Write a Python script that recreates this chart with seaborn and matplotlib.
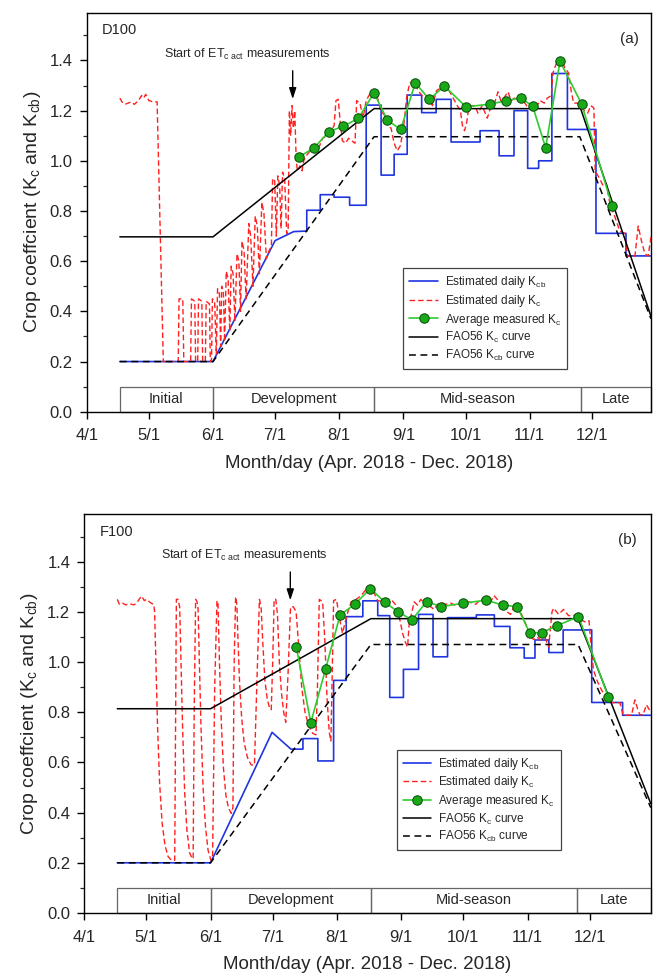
import matplotlib
matplotlib.use("Agg")
import matplotlib.pyplot as plt
from matplotlib.lines import Line2D
from matplotlib.patches import Rectangle
import pandas as pd
import seaborn as sns

# ---------------- data (x = days after 1 April 2018) ----------------
month_ticks = [0, 30, 61, 91, 122, 153, 183, 214, 244]
month_labels = ["4/1", "5/1", "6/1", "7/1", "8/1", "9/1", "10/1", "11/1", "12/1"]
stage_names = ["Initial", "Development", "Mid-season", "Late"]
stage_edges_a = [16, 61, 138.8, 238.8, 272.6]
stage_edges_b = [16, 61, 138.4, 237.8, 273.5]

# Panel (a) D100
fao_kc_a_day = [16, 61, 138.8, 238.6, 272.6]
fao_kc_a = [0.697, 0.697, 1.208, 1.208, 0.38]
fao_kcb_a_day = [16, 61, 138.8, 238.2, 272.6]
fao_kcb_a = [0.2, 0.2, 1.096, 1.096, 0.37]

kcb_a_day = [16, 61, 91, 100, 106.3, 106.3, 112.8, 112.8, 119.5, 119.5, 127, 127, 135, 135,
             142.2, 142.2, 148.5, 148.5, 154.8, 154.8, 161.8, 161.8, 168.8, 168.8, 176, 176,
             190, 190, 199.2, 199.2, 206.4, 206.4, 213, 213, 218.3, 218.3, 224.7, 224.7,
             232.2, 232.2, 246, 246, 260.5, 260.5, 272.6]
kcb_a = [0.2, 0.2, 0.682, 0.718, 0.72, 0.803, 0.803, 0.865, 0.865, 0.855, 0.855, 0.823, 0.823, 1.222,
         1.222, 0.943, 0.943, 1.026, 1.026, 1.262, 1.262, 1.192, 1.192, 1.245, 1.245, 1.075,
         1.075, 1.12, 1.12, 1.02, 1.02, 1.2, 1.2, 0.97, 0.97, 1.0, 1.0, 1.348,
         1.348, 1.125, 1.125, 0.711, 0.711, 0.621, 0.621]

kc_a_day = [16, 17, 18.5, 20, 21.5, 23, 25, 26.5, 27.5, 28.5, 30, 32, 34, 37,
            44.2, 44.6, 46.4, 46.9, 50.2, 50.6, 52.2, 52.6, 53.6, 54, 55.6, 56, 57.3, 57.7, 59.3, 59.7,
            60.3, 60.7, 61.8, 62.6, 63.2, 64.1, 64.7, 65.2, 66, 66.6, 67.4, 68.3, 69.1, 69.8, 70.7, 71.6,
            72.6, 73.5, 74.3, 75, 76, 77, 78.3, 79.2, 80.3, 81.4, 82.4, 83.4, 84.6, 85.6, 86.8, 88, 89.2,
            89.8, 90.8, 91.6, 92.3, 93.2, 93.9, 94.6, 95.6, 96.6, 97.3, 97.9, 98.5, 99.2, 99.8, 100.5,
            101.2, 101.8, 103, 104, 104.8, 106, 108, 110, 112, 114, 116, 118, 119.5, 120.4, 121.5,
            122.5, 123.5, 125, 126.5, 128, 129.6, 130.4, 132, 133.5, 135, 137, 139, 140.5, 142, 144,
            145.5, 147, 148.5, 150, 151.5, 153, 154.5, 156, 158, 159.5, 161, 163, 165, 167, 169, 171,
            173, 175, 177, 179, 180.5, 181.5, 182.5, 183.5, 184.5, 186, 187.5, 189, 191, 192.5, 193.5,
            195, 197, 198.7, 200, 201.5, 203.5, 205, 206.7, 208.5, 210, 212.5, 214, 215.6, 217.5, 219,
            221, 222.5, 224.4, 225.2, 226.5, 228, 229.5, 231, 232.8, 234, 235.2, 237, 239, 240.5, 242,
            243.5, 245, 245.6, 247, 248.3, 249.5, 251, 252.7, 255, 257.5, 259.9, 261.3, 264.8, 266.4,
            268, 269.6, 271.2, 272.6]
kc_a = [1.25, 1.235, 1.225, 1.23, 1.235, 1.225, 1.24, 1.26, 1.25, 1.265, 1.24, 1.235, 1.235, 0.2,
        0.2, 0.45, 0.45, 0.2, 0.2, 0.45, 0.44, 0.2, 0.2, 0.45, 0.44, 0.2, 0.2, 0.44, 0.43, 0.2,
        0.21, 0.45, 0.44, 0.23, 0.49, 0.47, 0.26, 0.50, 0.48, 0.28, 0.56, 0.53, 0.32, 0.58, 0.55, 0.36,
        0.63, 0.60, 0.40, 0.68, 0.64, 0.45, 0.75, 0.70, 0.50, 0.78, 0.74, 0.55, 0.835, 0.79, 0.61, 0.64, 0.66,
        0.93, 0.92, 0.70, 0.94, 0.90, 0.73, 0.955, 0.93, 0.71, 0.72, 1.20, 1.10, 1.22, 1.13, 1.20,
        1.00, 0.96, 0.98, 0.96, 1.00, 1.02, 1.04, 1.06, 1.05, 1.09, 1.10, 1.12, 1.14, 1.24, 1.245,
        1.15, 1.08, 1.07, 1.09, 1.08, 1.07, 1.24, 1.23, 1.17, 1.24, 1.27, 1.28, 1.25, 1.20, 1.18,
        1.14, 1.13, 1.07, 1.04, 1.06, 1.13, 1.25, 1.31, 1.32, 1.29, 1.27, 1.25, 1.25, 1.22, 1.28, 1.29,
        1.30, 1.28, 1.25, 1.22, 1.20, 1.14, 1.12, 1.15, 1.21, 1.22, 1.22, 1.19, 1.22, 1.19, 1.17,
        1.21, 1.23, 1.275, 1.24, 1.25, 1.275, 1.24, 1.25, 1.24, 1.25, 1.22, 1.21, 1.23, 1.22, 1.24,
        1.23, 1.25, 1.26, 1.35, 1.38, 1.41, 1.40, 1.37, 1.35, 1.28, 1.23, 1.23, 1.21, 1.20, 1.19,
        1.22, 1.21, 0.96, 0.94, 0.92, 0.90, 0.91, 0.83, 0.78, 0.72, 0.71, 0.62, 0.62, 0.74,
        0.68, 0.63, 0.62, 0.70]

meas_a_day = [102.7, 110, 116.9, 124, 131.2, 138.8, 145.2, 151.7, 158.7, 165.5, 172.8, 183.2,
              194.8, 202.4, 209.6, 215.4, 221.7, 228.6, 239.1, 253.8]
meas_a = [1.016, 1.053, 1.116, 1.138, 1.169, 1.271, 1.162, 1.125, 1.311, 1.245, 1.298, 1.215,
          1.226, 1.239, 1.251, 1.218, 1.052, 1.397, 1.226, 0.82]

# Panel (b) F100
fao_kc_b_day = [16, 61, 138.4, 238.4, 273.5]
fao_kc_b = [0.814, 0.814, 1.173, 1.173, 0.436]
fao_kcb_b_day = [16, 61, 138.4, 238.4, 273.5]
fao_kcb_b = [0.2, 0.2, 1.07, 1.07, 0.42]

kcb_b_day = [16, 61, 90.7, 99.8, 105.6, 105.6, 112.8, 112.8, 120.4, 120.4, 126.5, 126.5, 134.5, 134.5,
             141.7, 141.7, 147.5, 147.5, 154.1, 154.1, 161.4, 161.4, 168.4, 168.4, 175.4, 175.4,
             189.3, 189.3, 198, 198, 205.5, 205.5, 212.4, 212.4, 217.6, 217.6, 224.3, 224.3,
             231.2, 231.2, 245, 245, 259.9, 259.9, 273.5]
kcb_b = [0.2, 0.2, 0.72, 0.653, 0.653, 0.695, 0.695, 0.606, 0.606, 0.927, 0.927, 1.181, 1.181, 1.244,
         1.244, 1.185, 1.185, 0.859, 0.859, 0.971, 0.971, 1.19, 1.19, 1.021, 1.021, 1.177,
         1.177, 1.188, 1.188, 1.142, 1.142, 1.057, 1.057, 1.016, 1.016, 1.088, 1.088, 1.038,
         1.038, 1.128, 1.128, 0.839, 0.839, 0.788, 0.788]

kc_b_day = [16, 17, 18.5, 20, 22, 24, 25.3, 26.5, 27.7, 29, 30.1, 31.5, 32.5, 33.6,
            34, 34.6, 35.4, 36.4, 37.6, 39, 40.5, 42.1, 43.7, 44.0, 44.5, 45.3,
            46.1, 46.7, 47.5, 48.5, 49.6, 50.9, 52.2, 52.6, 53.1, 53.8, 54.5,
            55, 55.6, 56.4, 57.4, 58.6, 59.8, 61.2, 62, 63, 64.1, 64.6,
            65.3, 66.2, 67.2, 68.4, 69.6, 71, 71.8, 72.4, 73.1, 73.7,
            74.2, 75.0, 76.0, 77.2, 78.8, 80.6, 82.2, 83.3, 84.6, 85.4,
            86.2, 87.2, 88.4, 89.6, 90.3, 91, 91.7, 92.5,
            93.3, 94.2, 95.2, 96.3, 97.3, 98.4, 99.6, 101, 102.3,
            103.6, 105.0, 106.6, 108.4, 110.3, 111.9, 112.6, 113.5, 115.1,
            116.2, 117.2, 118.3, 119.1, 119.6, 120.4, 121.8, 123.1, 124.7, 126, 127.3, 128.9, 131.3, 133.7,
            136.1, 138.5, 141.7, 144.9, 148.1, 150.2, 152.1, 153.7, 155, 156.1, 156.9, 158.2, 159.3,
            160.9, 162.5, 164.1, 165.7, 167.3, 168.9, 170.5, 172.9, 174.5, 176.9, 179.3, 182.5, 185.8,
            189, 191.4, 193.8, 196.2, 197.8, 199.4, 201, 202.6, 204.2, 205.8, 207.4, 209, 210.6, 212.2,
            213.8, 215.4, 217, 218.6, 220.2, 222.6, 224.2, 225.8, 226.6, 229, 231.4, 233.8, 237, 239.4,
            241.8, 243.7, 244.7, 245.8, 247.4, 249, 250.6, 252.2, 253.8, 256.2, 258.6, 260.2, 264.2,
            265.8, 267.1, 268.2, 269.8, 271.4, 273.5]
kc_b = [1.25, 1.23, 1.235, 1.228, 1.232, 1.228, 1.235, 1.25, 1.263, 1.245, 1.25, 1.24, 1.234, 1.23,
        1.20, 1.0, 0.75, 0.52, 0.36, 0.27, 0.225, 0.21, 0.21, 0.6, 1.25, 1.25,
        1.22, 1.02, 0.74, 0.48, 0.33, 0.24, 0.215, 0.22, 0.8, 1.25, 1.24,
        1.21, 1.0, 0.74, 0.5, 0.34, 0.25, 0.21, 0.23, 0.9, 1.245, 1.23,
        1.0, 0.76, 0.58, 0.47, 0.42, 0.397, 0.42, 1.0, 1.26, 1.23,
        1.10, 0.92, 0.78, 0.68, 0.62, 0.59, 0.59, 0.9, 1.25, 1.22,
        1.08, 0.93, 0.85, 0.815, 0.81, 1.0, 1.25, 1.25,
        1.19, 1.0, 0.88, 0.80, 0.76, 0.95, 1.22, 1.22, 1.2,
        1.06, 0.90, 0.80, 0.745, 0.716, 0.71, 0.9, 1.25, 1.24,
        1.08, 0.86, 0.72, 0.685, 0.9, 1.245, 1.25, 1.18, 1.115, 1.16, 1.2, 1.24, 1.25, 1.265,
        1.29, 1.30, 1.245, 1.24, 1.25, 1.23, 1.18, 1.115, 1.08, 1.06, 1.155, 1.2, 1.24,
        1.227, 1.25, 1.235, 1.245, 1.22, 1.21, 1.23, 1.235, 1.23, 1.235, 1.226, 1.235, 1.24,
        1.23, 1.25, 1.25, 1.24, 1.265, 1.25, 1.23, 1.24, 1.2, 1.19, 1.22, 1.23, 1.2, 1.17,
        1.14, 1.1, 1.09, 1.1, 1.088, 1.095, 1.06, 1.2, 1.215, 1.19, 1.21, 1.185, 1.186, 1.17,
        1.16, 1.165, 1.06, 0.97, 0.93, 0.90, 0.876, 0.855, 0.84, 0.838, 0.838, 0.788, 0.788,
        0.849, 0.815, 0.79, 0.79, 0.83, 0.8]

meas_b_day = [102.4, 109.4, 116.5, 123.5, 130.7, 138.2, 145, 151.4, 158.2, 165.3, 172.3, 182.7,
              194, 202, 209, 215, 220.9, 228.1, 238.6, 253]
meas_b = [1.059, 0.759, 0.971, 1.187, 1.231, 1.293, 1.239, 1.201, 1.168, 1.241, 1.221, 1.234,
          1.247, 1.227, 1.221, 1.117, 1.117, 1.145, 1.181, 0.862]

# ---------------- style ----------------
sns.set_theme(style="ticks")
plt.rcParams["font.family"] = ["Liberation Sans", "DejaVu Sans"]
plt.rcParams["mathtext.fontset"] = "custom"
plt.rcParams["mathtext.rm"] = "Liberation Sans"
plt.rcParams["mathtext.it"] = "Liberation Sans:italic"
plt.rcParams["mathtext.bf"] = "Liberation Sans:bold"

C_BLUE = "#1f35e0"
C_RED = "#ff2020"
C_GREEN_LINE = "#2fcc2f"
C_GREEN_FACE = "#18a818"
C_GREEN_EDGE = "#0a4a0a"
RED_DASH = (0, (4.0, 2.2))
BLK_DASH = (0, (4.5, 3.0))

fig = plt.figure(figsize=(6.53, 9.75), dpi=100)
ax_a = fig.add_axes([0.1328, 0.5777, 0.8642, 0.4092])
ax_b = fig.add_axes([0.1289, 0.0636, 0.8677, 0.4092])


def line(ax, xs, ys, **kw):
    df = pd.DataFrame({"x": xs, "y": ys})
    sns.lineplot(data=df, x="x", y="y", ax=ax, sort=False, estimator=None, **kw)


def panel(ax, xmax, edges, fkc_d, fkc, fkcb_d, fkcb, kcb_d, kcb, kc_d, kc, m_d, m,
          name, tag, legend_xy):
    line(ax, kcb_d, kcb, color=C_BLUE, lw=1.2, zorder=3)
    line(ax, kc_d, kc, color=C_RED, lw=1.0, linestyle=RED_DASH, zorder=4)
    line(ax, fkc_d, fkc, color="black", lw=1.1, zorder=5)
    line(ax, fkcb_d, fkcb, color="black", lw=1.1, linestyle=BLK_DASH, zorder=5)
    line(ax, m_d, m, color=C_GREEN_LINE, lw=1.2, marker="o", markersize=6.8,
         markerfacecolor=C_GREEN_FACE, markeredgecolor=C_GREEN_EDGE, markeredgewidth=0.7, zorder=6)

    # growth stage boxes
    for i, nm in enumerate(stage_names):
        x0, x1 = edges[i], edges[i + 1]
        ax.add_patch(Rectangle((x0, 0), x1 - x0, 0.1, fill=False, edgecolor="#666666",
                               lw=0.9, zorder=2, clip_on=False))
        ax.text((x0 + x1) / 2, 0.05, nm, ha="center", va="center", fontsize=10.5)

    ax.annotate("", xy=(99.5, 1.235), xytext=(99.5, 1.37),
                arrowprops=dict(arrowstyle="-|>,head_length=0.55,head_width=0.18",
                                color="black", lw=1.0))
    ax.text(77.5, 1.425, r"Start of ET$_{\rm c\ act}$ measurements", ha="center",
            va="center", fontsize=9)
    ax.text(7.5, 1.52, name, ha="left", va="center", fontsize=10.5)
    ax.text(262, 1.485, tag, ha="center", va="center", fontsize=11)

    handles = [
        Line2D([], [], color=C_BLUE, lw=1.2),
        Line2D([], [], color=C_RED, lw=1.0, linestyle=RED_DASH),
        Line2D([], [], color=C_GREEN_LINE, lw=1.2, marker="o", markersize=6.8,
               markerfacecolor=C_GREEN_FACE, markeredgecolor=C_GREEN_EDGE, markeredgewidth=0.7),
        Line2D([], [], color="black", lw=1.1),
        Line2D([], [], color="black", lw=1.1, linestyle=BLK_DASH),
    ]
    labels = [r"Estimated daily K$_{\rm cb}$", r"Estimated daily K$_{\rm c}$",
              r"Average measured K$_{\rm c}$", r"FAO56 K$_{\rm c}$ curve",
              r"FAO56 K$_{\rm cb}$ curve"]
    leg = ax.legend(handles, labels, loc="upper left", bbox_to_anchor=legend_xy,
                    bbox_transform=ax.transData, fontsize=8.5, frameon=True, fancybox=False,
                    edgecolor="#444444", framealpha=1, borderpad=0.5, labelspacing=0.22,
                    handlelength=2.4, handletextpad=0.6, borderaxespad=0)
    leg.get_frame().set_linewidth(0.9)

    ax.set_xlim(0, xmax)
    ax.set_ylim(0, 1.59)
    ax.set_xticks(month_ticks)
    ax.set_xticklabels(month_labels)
    ax.set_yticks([0.0, 0.2, 0.4, 0.6, 0.8, 1.0, 1.2, 1.4])
    ax.set_yticklabels(["0.0", "0.2", "0.4", "0.6", "0.8", "1.0", "1.2", "1.4"])
    ax.set_yticks([0.1, 0.3, 0.5, 0.7, 0.9, 1.1, 1.3, 1.5], minor=True)
    ax.tick_params(axis="both", which="major", direction="out", length=5, width=1.0,
                   labelsize=12, pad=5, color="black")
    ax.tick_params(axis="y", which="minor", direction="out", length=3, width=0.9)
    ax.tick_params(axis="x", which="major", pad=7)
    for s in ax.spines.values():
        s.set_visible(True)
        s.set_linewidth(1.0)
        s.set_color("black")
    ax.set_xlabel("Month/day (Apr. 2018 - Dec. 2018)", fontsize=13.5, labelpad=8)
    ax.set_ylabel(r"Crop coeffcient (K$_{\rm c}$ and K$_{\rm cb}$)", fontsize=14, labelpad=5)


panel(ax_a, 272.6, stage_edges_a, fao_kc_a_day, fao_kc_a, fao_kcb_a_day, fao_kcb_a,
      kcb_a_day, kcb_a, kc_a_day, kc_a, meas_a_day, meas_a, "D100", "(a)", (153, 0.571))
panel(ax_b, 273.5, stage_edges_b, fao_kc_b_day, fao_kc_b, fao_kcb_b_day, fao_kcb_b,
      kcb_b_day, kcb_b, kc_b_day, kc_b, meas_b_day, meas_b, "F100", "(b)", (151, 0.65))

fig.savefig("out.png", dpi=100)
